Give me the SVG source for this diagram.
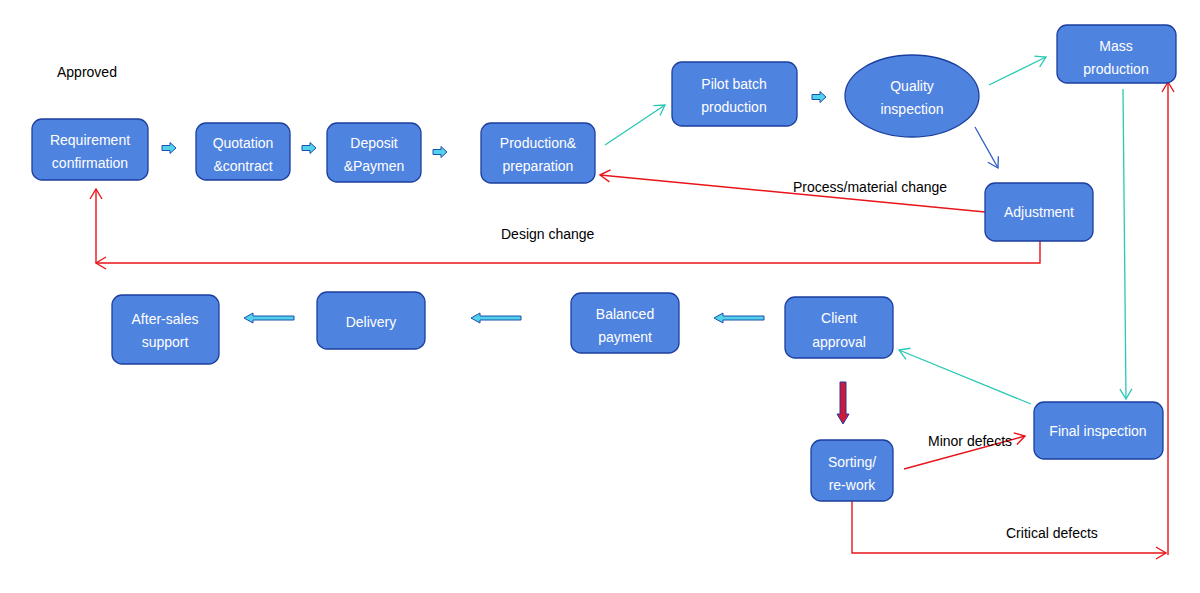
<svg xmlns="http://www.w3.org/2000/svg" width="1200" height="593" viewBox="0 0 1200 593">
<style>
.n{fill:#4f83e0;stroke:#1c3f9e;stroke-width:1.3}
.t{font-family:"Liberation Sans",Arial,sans-serif;font-size:14px;fill:#ffffff;text-anchor:middle}
.l{font-family:"Liberation Sans",Arial,sans-serif;font-size:14px;fill:#000000}
.teal{stroke:#2ac8b4;stroke-width:1.3;fill:none}
.red{stroke:#e8141a;stroke-width:1.4;fill:none}
.blue{stroke:#2a5cc4;stroke-width:1.3;fill:none}
.bar{fill:#50d2ea;stroke:#1f4fb0;stroke-width:1}
.down{fill:#d0183a;stroke:#1f3c9c;stroke-width:1}
</style>
<defs>
<marker id="mt" markerWidth="16" markerHeight="16" refX="12" refY="8" orient="auto" markerUnits="userSpaceOnUse"><path d="M2,2 L12,8 L2,14" fill="none" stroke="#2ac8b4" stroke-width="1.3"/></marker>
<marker id="mr" markerWidth="16" markerHeight="16" refX="12" refY="8" orient="auto" markerUnits="userSpaceOnUse"><path d="M2,2 L12,8 L2,14" fill="none" stroke="#e8141a" stroke-width="1.4"/></marker>
<marker id="mb" markerWidth="16" markerHeight="16" refX="12" refY="8" orient="auto" markerUnits="userSpaceOnUse"><path d="M2,2 L12,8 L2,14" fill="none" stroke="#2a5cc4" stroke-width="1.3"/></marker>
<path id="ra" d="M0,-2.5 H8 V-5.5 L14,0 L8,5.5 V2.5 H0 Z"/>
<path id="la" d="M0,0 L9,-5 V-2 H50 V2 H9 V5 Z"/>
</defs>

<g id="connectors">
<line class="teal" x1="605" y1="145" x2="665" y2="105" marker-end="url(#mt)"/>
<line class="teal" x1="989" y1="85" x2="1046" y2="57" marker-end="url(#mt)"/>
<line class="blue" x1="975" y1="127" x2="998" y2="168" marker-end="url(#mb)"/>
<line class="red" x1="985" y1="212" x2="600" y2="175" marker-end="url(#mr)"/>
<polyline class="red" points="1040,241 1040,263 96,263" marker-end="url(#mr)"/>
<line class="red" x1="96" y1="263" x2="96" y2="189" marker-end="url(#mr)"/>
<line class="teal" x1="1123" y1="89" x2="1126" y2="399" marker-end="url(#mt)"/>
<polyline class="red" points="852,501 852,553 1166,553" marker-end="url(#mr)"/>
<line class="red" x1="1168" y1="555" x2="1168" y2="82" marker-end="url(#mr)"/>
<line class="red" x1="904" y1="469" x2="1025" y2="436" marker-end="url(#mr)"/>
<line class="teal" x1="1031" y1="404" x2="899" y2="350" marker-end="url(#mt)"/>
<use href="#ra" class="bar" x="162" y="148"/>
<use href="#ra" class="bar" x="302" y="148"/>
<use href="#ra" class="bar" x="433" y="152"/>
<use href="#ra" class="bar" x="812" y="97"/>
<use href="#la" class="bar" x="244" y="318"/>
<use href="#la" class="bar" x="471" y="318"/>
<use href="#la" class="bar" x="714" y="318"/>
<path class="down" d="M840,382 H846 V414 H849 L843,424 L837,414 H840 Z"/>
</g>

<text class="l" x="57" y="77">Approved</text>
<text class="l" x="793" y="192">Process/material change</text>
<text class="l" x="501" y="239">Design change</text>
<text class="l" x="928" y="446">Minor defects</text>
<text class="l" x="1006" y="538">Critical defects</text>

<g id="req"><rect class="n" x="32" y="119" width="116" height="61" rx="10"/><text class="t" x="90" y="145">Requirement</text><text class="t" x="90" y="168">confirmation</text></g>
<g id="quote"><rect class="n" x="196" y="123" width="94" height="57" rx="10"/><text class="t" x="243" y="148">Quotation</text><text class="t" x="243" y="171">&amp;contract</text></g>
<g id="deposit"><rect class="n" x="327" y="123" width="94" height="59" rx="10"/><text class="t" x="374" y="148">Deposit</text><text class="t" x="374" y="171">&amp;Paymen</text></g>
<g id="prep"><rect class="n" x="481" y="123" width="114" height="60" rx="10"/><text class="t" x="538" y="148">Production&amp;</text><text class="t" x="538" y="171">preparation</text></g>
<g id="pilot"><rect class="n" x="672" y="62" width="125" height="64" rx="10"/><text class="t" x="734" y="89">Pilot batch</text><text class="t" x="734" y="112">production</text></g>
<g id="quality"><ellipse class="n" cx="912" cy="96" rx="67" ry="41"/><text class="t" x="912" y="91">Quality</text><text class="t" x="912" y="114">inspection</text></g>
<g id="mass"><rect class="n" x="1057" y="25" width="119" height="58" rx="10"/><text class="t" x="1116" y="51">Mass</text><text class="t" x="1116" y="74">production</text></g>
<g id="adjust"><rect class="n" x="985" y="183" width="108" height="58" rx="10"/><text class="t" x="1039" y="217">Adjustment</text></g>
<g id="aftersales"><rect class="n" x="112" y="295" width="107" height="69" rx="10"/><text class="t" x="165" y="324">After-sales</text><text class="t" x="165" y="347">support</text></g>
<g id="delivery"><rect class="n" x="317" y="292" width="108" height="57" rx="10"/><text class="t" x="371" y="327">Delivery</text></g>
<g id="balanced"><rect class="n" x="571" y="293" width="108" height="60" rx="10"/><text class="t" x="625" y="319">Balanced</text><text class="t" x="625" y="342">payment</text></g>
<g id="client"><rect class="n" x="785" y="297" width="108" height="61" rx="10"/><text class="t" x="839" y="323">Client</text><text class="t" x="839" y="347">approval</text></g>
<g id="final"><rect class="n" x="1034" y="402" width="129" height="57" rx="10"/><text class="t" x="1098" y="436">Final inspection</text></g>
<g id="sorting"><rect class="n" x="811" y="440" width="82" height="61" rx="10"/><text class="t" x="852" y="467">Sorting/</text><text class="t" x="852" y="490">re-work</text></g>
</svg>
